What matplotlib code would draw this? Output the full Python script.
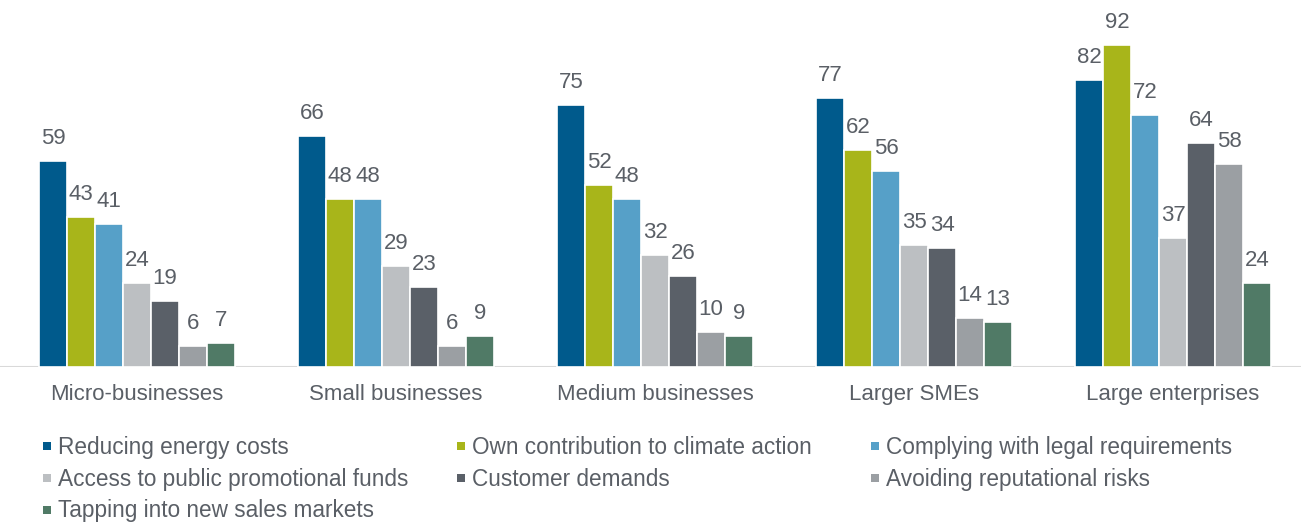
import numpy as np
import matplotlib
matplotlib.use('Agg')
import matplotlib.pyplot as plt
from matplotlib.patches import Rectangle

plt.rcParams['font.family'] = ['Liberation Sans', 'DejaVu Sans']

categories = ['Micro-businesses', 'Small businesses', 'Medium businesses',
              'Larger SMEs', 'Large enterprises']
series = ['Reducing energy costs', 'Own contribution to climate action',
          'Complying with legal requirements', 'Access to public promotional funds',
          'Customer demands', 'Avoiding reputational risks',
          'Tapping into new sales markets']
reducing_energy = [59, 66, 75, 77, 82]
own_contribution = [43, 48, 52, 62, 92]
legal_requirements = [41, 48, 48, 56, 72]
promotional_funds = [24, 29, 32, 35, 37]
customer_demands = [19, 23, 26, 34, 64]
reputational_risks = [6, 6, 10, 14, 58]
new_markets = [7, 9, 9, 13, 24]
values = [reducing_energy, own_contribution, legal_requirements, promotional_funds,
          customer_demands, reputational_risks, new_markets]
colors = ['#005a8c', '#a8b51a', '#56a0c8', '#bcbfc2', '#5a6068', '#9b9fa3', '#507a66']

text_color = '#5a5f66'
W, H = 1301, 523

fig = plt.figure(figsize=(W / 100, H / 100), dpi=100)
ax = fig.add_axes([0, 0.298, 1, 0.702])

x = np.arange(len(categories))
pitch = 0.108
for i, (vals, col) in enumerate(zip(values, colors)):
    xs = x + (i - 3) * pitch
    bars = ax.bar(xs, vals, width=pitch, color=col, edgecolor='white', linewidth=1.2)
    for b, v in zip(bars, vals):
        # value label sits ~17px above the bar top (baseline)
        ax.annotate(str(v), (b.get_x() + b.get_width() / 2, v), xytext=(0, 12.2),
                    textcoords='offset points', ha='center', va='baseline',
                    fontsize=16, color=text_color)

ax.set_xlim(-0.529, 4.494)
ax.set_ylim(0, 104.9)
ax.axhline(0, color='#d9d9d9', linewidth=1.5, zorder=0)
for s in ax.spines.values():
    s.set_visible(False)
ax.set_yticks([])
ax.set_xticks(x)
ax.set_xticklabels(categories, fontsize=16, color=text_color)
ax.tick_params(axis='x', length=0, pad=12)

# legend laid out by hand: three columns, filled row by row
col_x = [42.7, 456.7, 870.7]
row_base = [454, 486, 517.5]
box = 8
for k, (name, col) in enumerate(zip(series, colors)):
    r, c = divmod(k, 3)
    mx, by = col_x[c], row_base[r]
    fig.patches.append(Rectangle((mx / W, 1 - (by - 4) / H), box / W, box / H,
                                 transform=fig.transFigure, facecolor=col,
                                 edgecolor='none'))
    fig.text((mx + 15.8) / W, 1 - by / H, name, fontsize=16.3, color=text_color,
             ha='left', va='baseline')

fig.savefig('out.png', dpi=100)
